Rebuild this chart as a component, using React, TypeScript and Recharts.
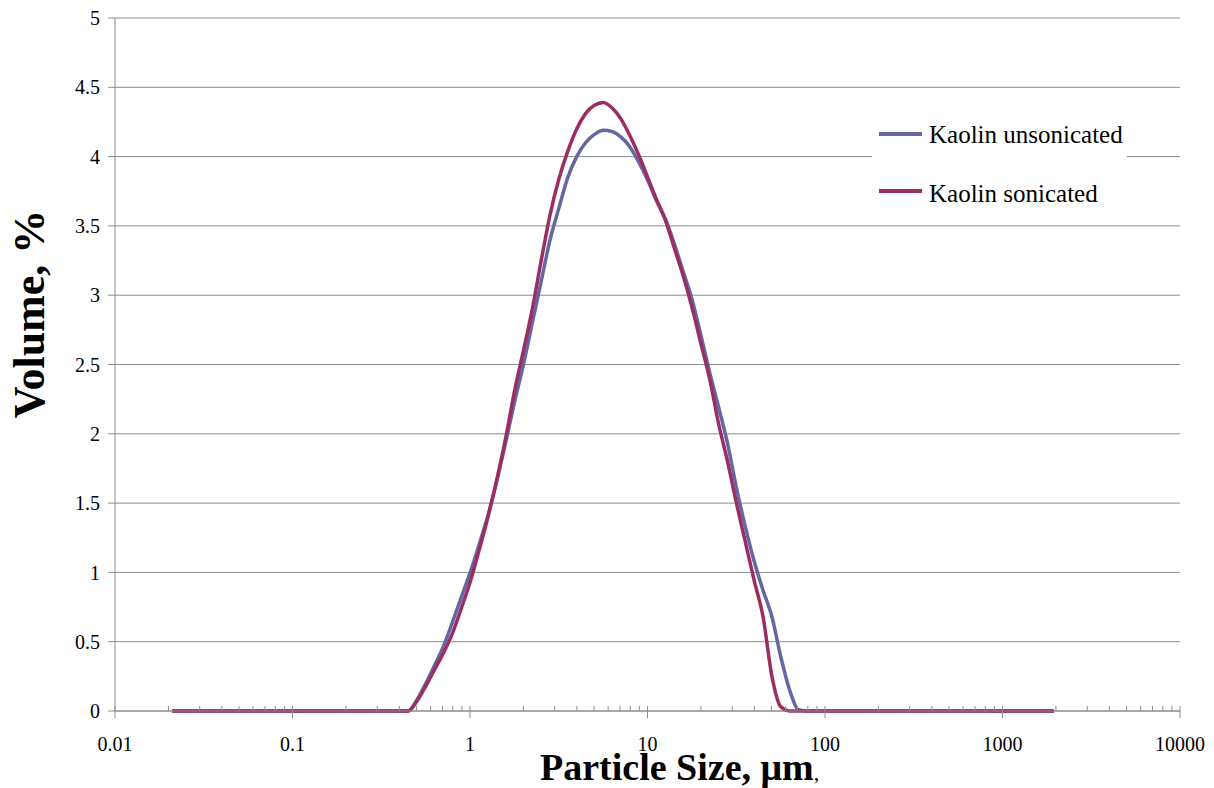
import {LineChart, Line, XAxis, YAxis, CartesianGrid, Legend, Label} from "recharts";

const FONT = "'Liberation Serif', 'Times New Roman', serif";

// particle size bins, µm
const sizes = [
  0.021, 0.399, 0.448, 0.502, 0.564, 0.632, 0.71, 0.796, 0.893, 1.002, 1.125, 1.262, 1.416, 1.589, 1.783, 2.0, 2.244,
  2.518, 2.825, 3.17, 3.557, 3.991, 4.477, 5.024, 5.637, 6.325, 7.096, 7.962, 8.934, 10.024, 11.247, 12.619, 14.159,
  15.887, 17.825, 20.0, 22.44, 25.179, 28.251, 31.698, 35.566, 39.905, 44.774, 50.238, 56.368, 63.246, 70.963, 79.621,
  89.337, 1950,
];

// volume %, per bin
const unsonicated = [
  0, 0, 0, 0.08, 0.2, 0.33, 0.47, 0.64, 0.82, 1.0, 1.2, 1.41, 1.66, 1.94, 2.23, 2.5, 2.8, 3.1, 3.4, 3.63, 3.85, 4.0,
  4.1, 4.16, 4.19, 4.18, 4.14, 4.07, 3.96, 3.83, 3.68, 3.55, 3.37, 3.17, 2.97, 2.71, 2.44, 2.19, 1.93, 1.61, 1.33, 1.08,
  0.87, 0.68, 0.39, 0.15, 0.01, 0, 0, 0,
];

const sonicated = [
  0, 0, 0, 0.07, 0.18, 0.3, 0.42, 0.56, 0.74, 0.93, 1.16, 1.4, 1.67, 1.97, 2.31, 2.6, 2.9, 3.25, 3.58, 3.84, 4.04, 4.2,
  4.31, 4.37, 4.39, 4.35, 4.27, 4.15, 4.01, 3.85, 3.69, 3.54, 3.34, 3.14, 2.91, 2.65, 2.39, 2.07, 1.8, 1.5, 1.22, 0.94,
  0.68, 0.25, 0.03, 0, 0, 0, 0, 0,
];

// decades get a label and a long tick, everything in between a short one
const xMajorTicks = [0.01, 0.1, 1, 10, 100, 1000, 10000];
const xTicks = [
  0.01, 0.02, 0.03, 0.04, 0.05, 0.06, 0.07, 0.08, 0.09,
  0.1, 0.2, 0.3, 0.4, 0.5, 0.6, 0.7, 0.8, 0.9,
  1, 2, 3, 4, 5, 6, 7, 8, 9,
  10, 20, 30, 40, 50, 60, 70, 80, 90,
  100, 200, 300, 400, 500, 600, 700, 800, 900,
  1000, 2000, 3000, 4000, 5000, 6000, 7000, 8000, 9000, 10000,
];
const yTicks = [0, 0.5, 1, 1.5, 2, 2.5, 3, 3.5, 4, 4.5, 5];

const SERIES = [
  {key: "unsonicated", name: "Kaolin unsonicated", color: "#6566A2"},
  {key: "sonicated", name: "Kaolin sonicated", color: "#9A2E62"},
];

const data = sizes.map((size, i) => ({size, unsonicated: unsonicated[i], sonicated: sonicated[i]}));

const tickStyle = {fontFamily: FONT, fontSize: 20, fill: "#000"};
const axisGray = "#8c8c8c";

function LogTick({x, y, payload}: any) {
  const major = xMajorTicks.includes(payload.value);
  return (
    <g>
      <line x1={x} x2={x} y1={y - 5} y2={major ? y + 7 : y} stroke={axisGray} />
      {major && (
        <text x={x} y={y + 40} textAnchor="middle" {...tickStyle}>
          {String(payload.value)}
        </text>
      )}
    </g>
  );
}

function KaolinLegend({payload}: any) {
  const order = SERIES.map((s) => s.name);
  const items = [...(payload || [])].sort((a: any, b: any) => order.indexOf(a.value) - order.indexOf(b.value));
  return (
    <div style={{position: "relative", width: 255, height: 116, background: "#fff", fontFamily: FONT, fontSize: 25, color: "#000"}}>
      {items.map((entry: any, i: number) => (
        <div key={entry.value}>
          <div style={{position: "absolute", left: 7, top: 27 + i * 57, width: 43, height: 3.5, background: entry.color}} />
          <div style={{position: "absolute", left: 57, top: 17 + i * 59, lineHeight: "25px", whiteSpace: "nowrap"}}>
            {entry.value}
          </div>
        </div>
      ))}
    </div>
  );
}

function XTitle({viewBox}: any) {
  return (
    <text x={viewBox.x + 425} y={viewBox.y + 69} fontFamily={FONT} fill="#000">
      <tspan fontSize={38} fontWeight="bold">Particle Size, μm</tspan>
      <tspan fontSize={22}>,</tspan>
    </text>
  );
}

function YTitle({viewBox}: any) {
  const x = viewBox.x + 44;
  const y = viewBox.y + 296;
  return (
    <text x={x} y={y} transform={`rotate(-90 ${x} ${y})`} textAnchor="middle" fontFamily={FONT} fontSize={44} fontWeight="bold" fill="#000">
      Volume, %
    </text>
  );
}

export default function App() {
  return (
    <div style={{position: "absolute", left: 0, top: 0, background: "#fff"}}>
      <LineChart width={1214} height={788} data={data} margin={{top: 18, right: 34, left: 0, bottom: 0}}>
        <CartesianGrid vertical={false} stroke={axisGray} />
        <XAxis
          dataKey="size"
          type="number"
          scale="log"
          domain={[0.01, 10000]}
          ticks={xTicks}
          interval={0}
          height={77}
          tick={<LogTick />}
          tickLine={false}
          tickSize={0}
          tickMargin={0}
          axisLine={{stroke: axisGray}}
          allowDataOverflow
        >
          <Label content={<XTitle />} />
        </XAxis>
        <YAxis
          type="number"
          domain={[0, 5]}
          ticks={yTicks}
          width={115}
          tick={tickStyle}
          tickSize={7}
          tickMargin={8}
          axisLine={{stroke: axisGray}}
          tickLine={{stroke: axisGray}}
        >
          <Label content={<YTitle />} />
        </YAxis>
        <Legend
          layout="vertical"
          align="center"
          verticalAlign="middle"
          content={<KaolinLegend />}
          wrapperStyle={{left: 872, top: 105, width: 255, height: 116}}
        />
        {SERIES.map((s) => (
          <Line
            key={s.key}
            dataKey={s.key}
            name={s.name}
            type="monotone"
            stroke={s.color}
            strokeWidth={3.5}
            dot={false}
            isAnimationActive={false}
          />
        ))}
      </LineChart>
    </div>
  );
}
